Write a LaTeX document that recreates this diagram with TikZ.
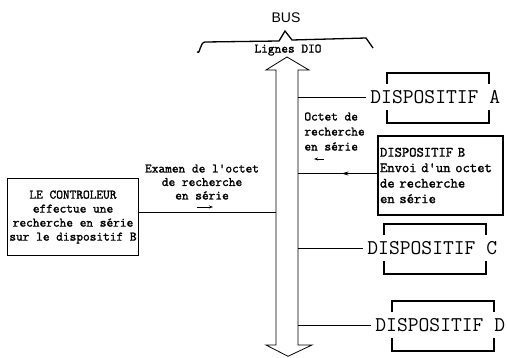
\documentclass[tikz,border=0pt]{standalone}
\usepackage{fontspec}
\setsansfont{Liberation Sans}
\setmonofont{Latin Modern Mono}[AutoFakeBold=1.6]
\usetikzlibrary{calc,arrows.meta,decorations.markings}
\newcommand{\notefont}[1]{\fontsize{13}{#1}\selectfont\ttfamily\bfseries}
\newcommand{\devbracket}[1]{%
  \draw[bracket] ($(#1.west)+(21,-13)$) -- ++(0,-11) -- ++(102,0) -- ++(0,11);
  \draw[bracket] ($(#1.west)+(21,13)$) -- ++(0,13) -- ++(102,0) -- ++(0,-13);
}
\tikzset{
  devtext/.style={font=\fontsize{21}{23}\selectfont\ttfamily, inner xsep=4pt, inner ysep=0pt, anchor=west},
  note/.style={inner sep=0pt},
  bracket/.style={line width=1.3pt},
  marker/.style={-{Stealth[length=4pt,width=3pt]}, line width=0.7pt},
}

\begin{document}
\begin{tikzpicture}[x=1pt, y=-1pt, >=Stealth, line width=0.8pt]
  \useasboundingbox (0,0) rectangle (507,357);
  % le bus
  \coordinate (busL) at (276,0);
  \coordinate (busR) at (298,0);
  \draw (287,57) -- (309,70) -- (298,70) -- (298,345) -- (312,345) -- (288,356.3)
    -- (266,345) -- (276,345) -- (276,70) -- (266,70) -- cycle;
  \node[font=\fontsize{14}{16}\selectfont\sffamily] (bus) at (286,18) {BUS};
  \draw[bracket] (197,52) to[out=-60,in=180] (205,42) -- (279,41) -- (285,31)
    -- (292,40) -- (366,38) -- (373,48);
  \node[note, font=\notefont{14}] (dio) at (288,50) {Lignes DIO};

  % dispositifs
  \node[devtext] (devA) at (366,97) {DISPOSITIF A};
  \node[devtext] (devC) at (363,248) {DISPOSITIF C};
  \node[devtext] (devD) at (371,325) {DISPOSITIF D};
  \devbracket{devA}
  \devbracket{devC}
  \devbracket{devD}
  \draw (devA.west -| busR) -- (devA.west);
  \draw (devC.west -| busR) -- (devC.west);
  \draw (devD.west -| busR) -- (devD.west);

  \node[draw, line width=1.4pt, text width=121pt, minimum height=79pt, inner xsep=2pt,
    align=left, font=\fontsize{14.2}{15.5}\selectfont\ttfamily\bfseries] (devB) at (440.5,175.5)
    {DISPOSITIF B\\Envoi d'un octet\\de recherche\\en série};
  \draw[postaction={decorate}, decoration={markings,
    mark=at position 0.45 with {\arrow{Stealth[length=7pt,width=4pt]}}}]
    ([yshift=2pt]devB.west) -- ([yshift=2pt]devB.west -| busR);
  \node[note, align=left, anchor=north west, font=\notefont{15}] (octet) at (304,112)
    {Octet de\\recherche\\en série};
  \draw[marker] ($(octet.south west)+(20,8)$) -- ++(-10,0);

  % controleur
  \node[draw, line width=1.2pt, minimum width=130pt, minimum height=77pt, inner sep=2pt,
    align=center, font=\notefont{14}] (ctrl) at (73,217)
    {LE CONTROLEUR\\effectue une\\recherche en série\\sur le dispositif B};
  \draw ([yshift=5pt]ctrl.east) -- ([yshift=5pt]ctrl.east -| busL);
  \node[note, align=center, font=\notefont{13.5}] (exam) at (202,182)
    {Examen de l'octet\\de recherche\\en série};
  \draw[marker] ($(exam.south)+(-5,7)$) -- ++(16,0);
\end{tikzpicture}
\end{document}
